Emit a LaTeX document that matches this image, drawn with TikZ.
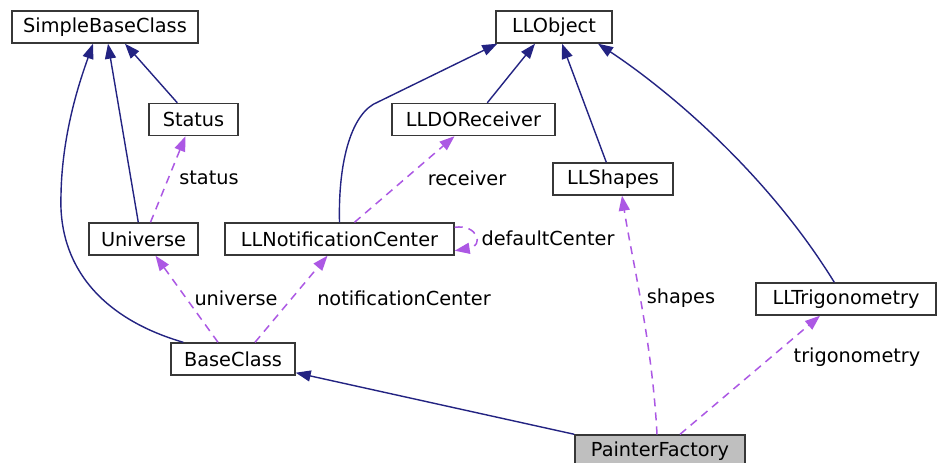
\documentclass[tikz,border=0pt]{standalone}
\usepackage{fontspec}
\setmainfont{DejaVu Sans}
\usetikzlibrary{arrows.meta}
\definecolor{inh}{RGB}{35,35,130}
\definecolor{use}{RGB}{172,88,228}
\definecolor{boxline}{RGB}{55,55,55}
\tikzset{
  cls/.style={draw=boxline, line width=1.4pt, fill=white, minimum height=32pt, inner xsep=0pt, inner ysep=0pt, font=\fontsize{19.3}{23}\selectfont, anchor=center},
  inhedge/.style={draw=inh, line width=1.4pt, -{Triangle[length=15pt,width=11pt]}},
  useedge/.style={draw=use, line width=1.5pt, dash pattern=on 8pt off 6pt, -{Triangle[length=15pt,width=11pt]}},
  lbl/.style={font=\fontsize{19.3}{23}\selectfont, inner sep=0pt}
}
\begin{document}
\begin{tikzpicture}[x=1pt,y=-1pt]
\useasboundingbox[fill=white] (0,0) rectangle (937,463);
% nodes
\node[cls, minimum width=186pt] (sbc) at (105,27) {SimpleBaseClass};
\node[cls, minimum width=116pt] (llo) at (554,27) {LLObject};
\node[cls, minimum width=89pt] (status) at (193.5,119.5) {Status};
\node[cls, minimum width=163pt] (recv) at (473.5,119.5) {LLDOReceiver};
\node[cls, minimum width=120pt] (shapes) at (613,179) {LLShapes};
\node[cls, minimum width=109pt] (univ) at (143.5,239) {Universe};
\node[cls, minimum width=229pt] (nc) at (339.5,239) {LLNotificationCenter};
\node[cls, minimum width=180pt] (trig) at (846,299) {LLTrigonometry};
\node[cls, minimum width=124pt] (bc) at (233,359) {BaseClass};
\node[cls, minimum width=170pt, fill={rgb,255:red,191;green,191;blue,191}] (pf) at (660,451) {PainterFactory};
% coordinates
\coordinate (c1) at (61,195);
\coordinate (c2) at (378,102);
% inheritance edges
\draw[inhedge] ([xshift=29pt]status.north west) -- ([xshift=20pt]sbc.south);
\draw[inhedge] ([xshift=50pt]univ.north west) -- ([xshift=3pt]sbc.south);
\draw[inhedge] ([xshift=13pt]bc.north west) .. controls (100,318) and (58,265) .. (c1) .. controls (62,130) and (82,75) .. ([xshift=-12pt]sbc.south);
\draw[inhedge] (nc.north) .. controls (338,160) and (352,112) .. (c2) -- ([xshift=2pt]llo.south west);
\draw[inhedge] ([xshift=96pt]recv.north west) -- ([xshift=-19pt]llo.south);
\draw[inhedge] ([xshift=54pt]shapes.north west) -- ([xshift=8pt]llo.south);
\draw[inhedge] ([xshift=79pt]trig.north west) .. controls (765,170) and (665,88) .. ([xshift=44pt]llo.south);
\draw[inhedge] (pf.north west) -- ([yshift=3pt]bc.south east);
% usage edges
\draw[useedge] ([xshift=7pt]univ.north) -- ([xshift=-8pt]status.south);
\draw[useedge] ([xshift=-15pt]bc.north) -- ([xshift=12pt]univ.south);
\draw[useedge] ([xshift=22pt]bc.north) -- ([xshift=-12pt]nc.south);
\draw[useedge] ([xshift=15pt]nc.north) -- ([xshift=-19pt]recv.south);
\draw[useedge] ([yshift=-5pt]nc.north east) .. controls (478,224) and (484,246) .. ([yshift=5pt]nc.south east);
\draw[useedge] ([xshift=-3pt]pf.north) .. controls (652,340) and (632,260) .. ([xshift=9pt]shapes.south);
\draw[useedge] ([xshift=20pt]pf.north) -- ([xshift=-26pt]trig.south);
% labels
\node[lbl] (l1) at (209,178) {status};
\node[lbl] (l2) at (236,298) {universe};
\node[lbl] (l3) at (404,298) {notificationCenter};
\node[lbl] (l4) at (467,178) {receiver};
\node[lbl] (l5) at (548,238) {defaultCenter};
\node[lbl] (l6) at (681,298) {shapes};
\node[lbl] (l7) at (857,357) {trigonometry};
\end{tikzpicture}
\end{document}
